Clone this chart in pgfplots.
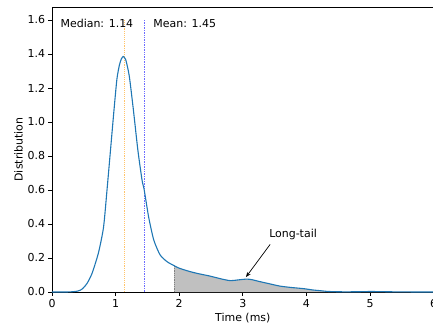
\documentclass[border=0pt]{standalone}
\usepackage{pgfplots}
\pgfplotsset{compat=1.18}
\usepackage{fontspec}
\setmainfont{DejaVu Sans}
\usetikzlibrary{arrows.meta,calc}
\definecolor{mplblue}{HTML}{1F77B4}
\definecolor{medc}{HTML}{FFC46A}
\definecolor{meanc}{HTML}{6C6CFF}
\definecolor{tailgray}{HTML}{C0C0C0}
\pgfplotstableread{
x y
0 0
0.2 0
0.3 0.001
0.4 0.005
0.47 0.016
0.55 0.05
0.63 0.11
0.73 0.23
0.81 0.38
0.865 0.6
0.92 0.835
0.97 1.05
1.02 1.25
1.06 1.335
1.09 1.37
1.12 1.385
1.16 1.365
1.215 1.27
1.28 1.07
1.35 0.835
1.415 0.66
1.45 0.6
1.52 0.44
1.6 0.306
1.70 0.218
1.81 0.178
1.92 0.155
2.0 0.14
2.17 0.12
2.3 0.108
2.48 0.094
2.65 0.078
2.8 0.067
2.95 0.072
3.06 0.076
3.15 0.072
3.27 0.061
3.4 0.05
3.58 0.035
3.75 0.027
3.95 0.02
4.1 0.012
4.21 0.008
4.35 0.003
4.6 0.001
4.9 0.002
5.0 0.003
5.2 0.002
5.5 0.0005
6 0
}\dens
\begin{document}
\begin{tikzpicture}
\begin{axis}[
  scale only axis,
  width=381.6bp, height=285bp,
  xmin=0, xmax=6, ymin=0, ymax=1.676,
  xtick={0,1,2,3,4,5,6},
  ytick={0,0.2,0.4,0.6,0.8,1.0,1.2,1.4,1.6},
  yticklabels={0.0,0.2,0.4,0.6,0.8,1.0,1.2,1.4,1.6},
  /pgf/number format/assume math mode=true,
  tick label style={font=\fontsize{11}{13}\selectfont},
  label style={font=\fontsize{11}{13}\selectfont},
  xlabel={Time (ms)}, ylabel={Distribution},
  xlabel style={yshift=1bp},
  ylabel style={yshift=-2bp},
  tick align=outside, xtick pos=left, ytick pos=left,
  major tick length=3.5bp,
  axis line style={line width=0.8bp},
  every tick/.style={black, line width=0.8bp},
  clip=true,
]
\addplot[fill=tailgray, draw=none, restrict x to domain=1.92:6] table[x=x,y=y] {\dens} \closedcycle;
\addplot[gray, densely dotted, line width=0.8bp] coordinates {(1.92,0) (1.92,0.155)};
\addplot[medc, densely dotted, line width=0.9bp] coordinates {(1.14,0) (1.14,1.6)};
\addplot[meanc, densely dotted, line width=0.7bp] coordinates {(1.45,0) (1.45,1.6)};
\addplot[mplblue, line width=1.1bp, smooth, tension=0.4] table[x=x,y=y] {\dens};
\node[anchor=west, font=\fontsize{11}{13}\selectfont] at (axis cs:0.08,1.58) {Median: 1.14};
\node[anchor=west, font=\fontsize{11}{13}\selectfont] at (axis cs:1.54,1.58) {Mean: 1.45};
\node[font=\fontsize{11}{13}\selectfont] at (axis cs:3.79,0.341) {Long-tail};
\draw[-{Stealth[length=5bp,width=4bp]}, line width=0.7bp] (axis cs:3.43,0.28) -- (axis cs:3.05,0.088);
\end{axis}
\pgfresetboundingbox
\useasboundingbox ($(current axis.south west)+(-52bp,-35bp)$) rectangle ($(current axis.north east)+(-0.6bp,7bp)$);
\end{tikzpicture}
\end{document}
